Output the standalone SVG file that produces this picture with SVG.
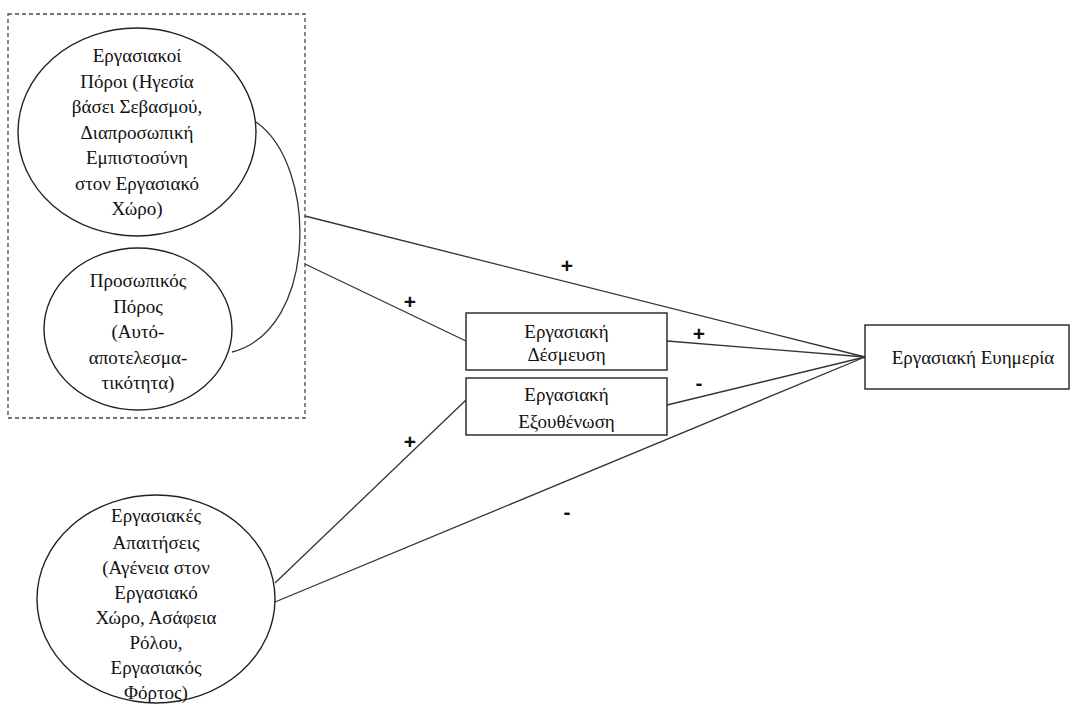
<svg xmlns="http://www.w3.org/2000/svg" width="1071" height="704" viewBox="0 0 1071 704">
<style>
.node{fill:#fff;stroke:#222;stroke-width:1.4}
.c{fill:none;stroke:#333;stroke-width:1.3}
text{font-family:"Liberation Serif",serif;font-size:19px;fill:#111;text-anchor:middle}
text.s{font-family:"Liberation Sans",sans-serif;font-size:21px;font-weight:bold}
</style>
<rect width="1071" height="704" fill="#fff"/>
<rect id="group-box" x="8" y="14" width="297" height="404" fill="none" stroke="#3c4a66" stroke-width="1.3" stroke-dasharray="4,3"/>
<g id="connectors">
<path class="c" d="M256,122 C318,165 318,330 232,352"/>
<line class="c" x1="305" y1="216" x2="865" y2="357"/>
<line class="c" x1="305" y1="264" x2="466" y2="341"/>
<line class="c" x1="667" y1="341" x2="865" y2="357"/>
<line class="c" x1="667" y1="405" x2="865" y2="357"/>
<line class="c" x1="275" y1="583" x2="466" y2="400"/>
<line class="c" x1="275" y1="602" x2="865" y2="357"/>
<text class="s" x="567" y="273">+</text>
<text class="s" x="410" y="309">+</text>
<text class="s" x="699" y="341">+</text>
<text class="s" x="699" y="390">-</text>
<text class="s" x="410" y="449">+</text>
<text class="s" x="567" y="519">-</text>
</g>
<g id="n1">
<ellipse class="node" cx="137" cy="132" rx="119" ry="104"/>
<text x="137" y="62">Εργασιακοί</text>
<text x="137" y="87.5">Πόροι (Ηγεσία</text>
<text x="137" y="113">βάσει Σεβασμού,</text>
<text x="137" y="138.5">Διαπροσωπική</text>
<text x="137" y="164">Εμπιστοσύνη</text>
<text x="137" y="189.5">στον Εργασιακό</text>
<text x="137" y="215">Χώρο)</text>
</g>
<g id="n2">
<ellipse class="node" cx="138" cy="329" rx="94" ry="81"/>
<text x="138" y="287">Προσωπικός</text>
<text x="138" y="312.5">Πόρος</text>
<text x="138" y="338">(Αυτό-</text>
<text x="138" y="363.5">αποτελεσμα-</text>
<text x="138" y="389">τικότητα)</text>
</g>
<g id="n3">
<ellipse class="node" cx="156" cy="599" rx="119" ry="104"/>
<text x="156" y="522">Εργασιακές</text>
<text x="156" y="549">Απαιτήσεις</text>
<text x="156" y="574">(Αγένεια στον</text>
<text x="156" y="599">Εργασιακό</text>
<text x="156" y="624">Χώρο, Ασάφεια</text>
<text x="156" y="649">Ρόλου,</text>
<text x="156" y="674">Εργασιακός</text>
<text x="156" y="699">Φόρτος)</text>
</g>
<g id="n4">
<rect class="node" x="466" y="313" width="201" height="57"/>
<text x="566.5" y="338">Εργασιακή</text>
<text x="566.5" y="361">Δέσμευση</text>
</g>
<g id="n5">
<rect class="node" x="466" y="378" width="201" height="57"/>
<text x="566.5" y="401">Εργασιακή</text>
<text x="566.5" y="428">Εξουθένωση</text>
</g>
<g id="n6">
<rect class="node" x="865" y="325" width="204" height="64"/>
<text x="973" y="364">Εργασιακή Ευημερία</text>
</g>
</svg>
